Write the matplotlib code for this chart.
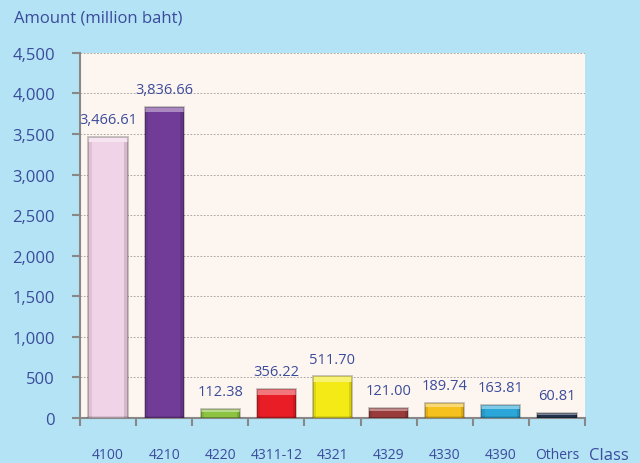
import matplotlib.pyplot as plt
import numpy as np
from matplotlib.ticker import FuncFormatter

classes = ['4100', '4210', '4220', '4311-12', '4321', '4329', '4330', '4390', 'Others']
amounts = [3466.61, 3836.66, 112.38, 356.22, 511.70, 121.00, 189.74, 163.81, 60.81]
colors = ['#f1d3e7', '#703c97', '#8cc340', '#e91d25', '#f4ea16', '#9a3b3b', '#f6c11c', '#2aa7d8', '#24334d']

txt = '#3b4c9b'
plt.rcParams['font.family'] = ['Open Sans', 'DejaVu Sans']

fig = plt.figure(figsize=(6.4, 4.64), dpi=100, facecolor='#b3e3f5')
ax = fig.add_axes([0.125, 0.097, 0.789, 0.787])
ax.set_facecolor('#fdf5ef')

x = np.arange(len(classes))
w = 0.7
side = 0.06
ax.bar(x, amounts, width=w, color=colors, linewidth=0, zorder=3)
# bevel: light top band, darker sides and bottom, soft outline
for xi, v, c in zip(x, amounts, colors):
    band = min(70, v * 0.3)
    ax.bar(xi, band, bottom=v - band, width=w, color='white', alpha=0.4, linewidth=0, zorder=4)
    ax.bar(xi - w / 2 + side / 2, v - band, width=side, color='black', alpha=0.08, linewidth=0, zorder=4)
    ax.bar(xi + w / 2 - side / 2, v - band, width=side, color='black', alpha=0.12, linewidth=0, zorder=4)
    ax.bar(xi, min(30, v * 0.15), width=w, color='black', alpha=0.1, linewidth=0, zorder=4)
    ax.bar(xi, v, width=w, fill=False, edgecolor='black', alpha=0.25, linewidth=1.2, zorder=5)
    ax.text(xi, v + 120, f'{v:,.2f}', ha='center', va='bottom', fontsize=10.5, color=txt, zorder=6)

ax.set_xlim(-0.5, len(classes) - 0.5)
ax.set_ylim(0, 4500)
ax.set_yticks(np.arange(0, 4501, 500))
ax.yaxis.set_major_formatter(FuncFormatter(lambda v, p: f'{int(v):,}'))
ax.yaxis.grid(True, linestyle=(0, (2, 2)), color='#999999', linewidth=0.6, zorder=0)

ax.set_xticks(np.arange(-0.5, len(classes), 1))
ax.set_xticklabels([])
ax.set_xticks(x, minor=True)
ax.set_xticklabels(classes, minor=True)
ax.tick_params(axis='x', which='major', length=6, color='#888888', width=1.5)
ax.tick_params(axis='x', which='minor', length=0, pad=21, labelsize=10, labelcolor=txt)
ax.tick_params(axis='y', length=6, color='#888888', width=1.5, labelsize=12, labelcolor=txt, pad=12)

for s in ['top', 'right']:
    ax.spines[s].set_visible(False)
for s in ['left', 'bottom']:
    ax.spines[s].set_color('#888888')
    ax.spines[s].set_linewidth(1.5)

fig.text(0.022, 0.96, 'Amount (million baht)', fontsize=12, color=txt, va='center')
fig.text(0.92, 0.018, 'Class', fontsize=12, color=txt, va='center')

fig.savefig('out.png', dpi=100, facecolor=fig.get_facecolor())
